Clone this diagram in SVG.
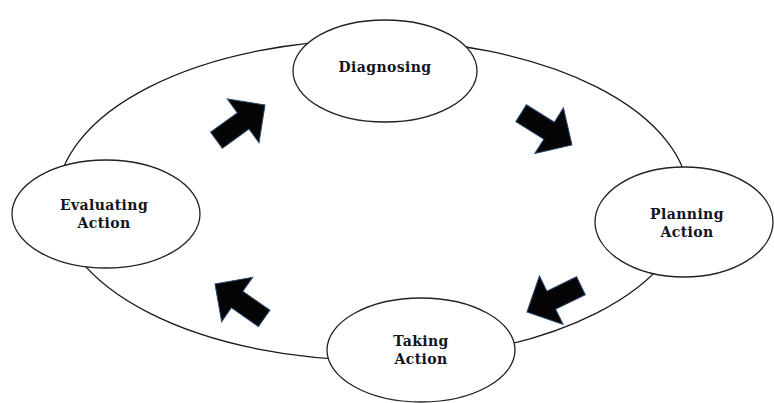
<svg xmlns="http://www.w3.org/2000/svg" width="774" height="403" viewBox="0 0 774 403">
<style>
.node{fill:#fff;stroke:#222;stroke-width:1.3}
.ring{fill:none;stroke:#1a1a1a;stroke-width:1.3}
.lbl{font-family:"DejaVu Serif","Liberation Serif",serif;font-weight:bold;font-size:14px;letter-spacing:0.4px;fill:#14141e;text-anchor:middle}
.arr{fill:#050505;stroke:#27476e;stroke-width:1}
</style>
<defs>
<path id="arrow" d="M0,0 L-27,-27 L-27,-10 L-60,-10 L-60,10 L-27,10 L-27,27 Z"/>
</defs>
<rect width="774" height="403" fill="#fff"/>
<g id="connectors">
<ellipse class="ring" cx="373" cy="200" rx="316" ry="160"/>
<use href="#arrow" class="arr" transform="translate(265,105) rotate(-36)"/>
<use href="#arrow" class="arr" transform="translate(572,145) rotate(32)"/>
<use href="#arrow" class="arr" transform="translate(527,312) rotate(154)"/>
<use href="#arrow" class="arr" transform="translate(215,284) rotate(-145)"/>
</g>
<g id="diagnosing">
<ellipse class="node" cx="385" cy="71" rx="92" ry="51"/>
<text class="lbl" x="385" y="72">Diagnosing</text>
</g>
<g id="planning">
<ellipse class="node" cx="684" cy="222" rx="89" ry="55"/>
<text class="lbl" x="687" y="219">Planning</text>
<text class="lbl" x="687" y="237">Action</text>
</g>
<g id="taking">
<ellipse class="node" cx="421" cy="350" rx="94" ry="52"/>
<text class="lbl" x="421" y="346">Taking</text>
<text class="lbl" x="421" y="364">Action</text>
</g>
<g id="evaluating">
<ellipse class="node" cx="106" cy="214" rx="94" ry="54"/>
<text class="lbl" x="104" y="210">Evaluating</text>
<text class="lbl" x="104" y="228">Action</text>
</g>
</svg>
